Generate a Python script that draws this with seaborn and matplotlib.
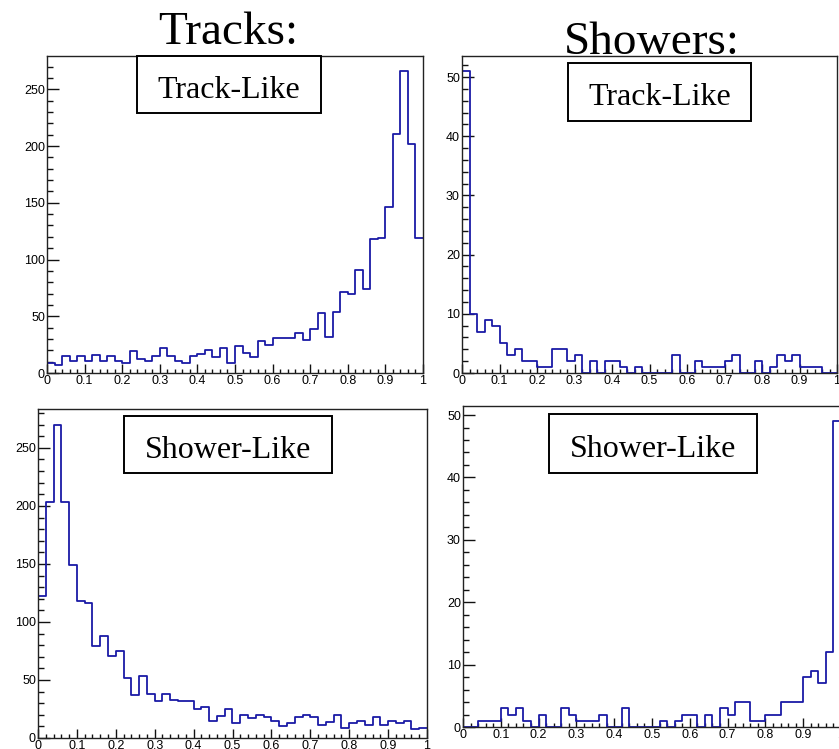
import numpy as np
import pandas as pd
import matplotlib
matplotlib.use("Agg")
import matplotlib.pyplot as plt
import seaborn as sns
from matplotlib.patches import Rectangle
from matplotlib.ticker import MultipleLocator, FuncFormatter

# 50 equal bins on [0, 1]
n_bins = 50
bin_edges = np.linspace(0.0, 1.0, n_bins + 1)

# Tracks, Track-Like score
tracks_tracklike = [9, 7, 15, 11, 15, 11, 16, 11, 15, 11,
                    9, 19, 12, 11, 15, 22, 15, 11, 9, 15,
                    17, 20, 14, 22, 9, 24, 18, 14, 28, 25,
                    31, 31, 31, 35, 29, 39, 53, 32, 54, 71,
                    70, 91, 74, 118, 119, 146, 211, 266, 202, 119]
# Tracks, Shower-Like score
tracks_showerlike = [122, 203, 270, 203, 149, 118, 116, 79, 88, 71,
                     75, 52, 37, 53, 38, 32, 38, 33, 32, 32,
                     25, 27, 15, 19, 25, 13, 20, 17, 20, 18,
                     15, 10, 13, 18, 20, 18, 11, 14, 20, 9,
                     13, 15, 11, 18, 11, 15, 13, 15, 8, 9]
# Showers, Track-Like score
showers_tracklike = [51, 10, 7, 9, 8, 5, 3, 4, 2, 2,
                     1, 1, 4, 4, 2, 3, 0, 2, 0, 2,
                     2, 1, 0, 1, 0, 0, 0, 0, 3, 0,
                     0, 2, 1, 1, 1, 2, 3, 0, 0, 2,
                     0, 1, 3, 2, 3, 1, 1, 1, 0, 0]
# Showers, Shower-Like score
showers_showerlike = [0, 0, 1, 1, 1, 3, 2, 3, 1, 0,
                      2, 0, 0, 3, 2, 1, 1, 1, 2, 0,
                      0, 3, 0, 0, 0, 0, 1, 0, 1, 2,
                      2, 0, 2, 0, 3, 2, 4, 4, 1, 1,
                      2, 2, 4, 4, 4, 8, 9, 7, 12, 49]

column_titles = ["Tracks:", "Showers:"]
row_labels = ["Track-Like", "Shower-Like"]

sns.set_style("white")
plt.rcParams["font.family"] = ["Liberation Sans", "DejaVu Sans"]
plt.rcParams["text.color"] = "black"

W, H = 839, 749
fig = plt.figure(figsize=(W / 100, H / 100), dpi=100)
fig.patch.set_facecolor("white")


def fig_rect(x0, y0, x1, y1):
    """Pixel box (top-left origin) -> figure fraction rect."""
    return [x0 / W, 1 - y1 / H, (x1 - x0) / W, (y1 - y0) / H]


panels = [
    # counts, axes box (px), y major step, label box (px), label baseline
    (tracks_tracklike, (47, 56, 423, 373), 50, (137, 56, 321, 113), 98),
    (showers_tracklike, (462, 56, 837, 373), 10, (568, 63, 751, 121), 105),
    (tracks_showerlike, (38, 409, 427, 738), 50, (124, 416, 332, 473), 458),
    (showers_showerlike, (463, 406, 841, 727), 10, (549, 414, 757, 473), 457),
]
labels = [row_labels[0], row_labels[0], row_labels[1], row_labels[1]]

line_color = "#1a1aa6"
fmt = FuncFormatter(lambda v, p: "%g" % round(v, 6))

for (counts, box, ystep, lbox, base), lab in zip(panels, labels):
    ax = fig.add_axes(fig_rect(*box))
    counts = np.asarray(counts, dtype=float)
    df = pd.DataFrame({"score": 0.5 * (bin_edges[:-1] + bin_edges[1:]),
                       "n": counts})
    sns.histplot(data=df, x="score", weights="n", bins=n_bins,
                 binrange=(0.0, 1.0), element="step", fill=False,
                 color=line_color, linewidth=1.3, ax=ax)
    ax.set_xlim(0, 1)
    ax.set_ylim(0, counts.max() * 1.05)
    ax.set_xlabel("")
    ax.set_ylabel("")
    for s in ax.spines.values():
        s.set_visible(True)
        s.set_linewidth(1.0)
        s.set_color("#222222")
    ax.xaxis.set_major_locator(MultipleLocator(0.1))
    ax.xaxis.set_minor_locator(MultipleLocator(0.02))
    ax.yaxis.set_major_locator(MultipleLocator(ystep))
    ax.yaxis.set_minor_locator(MultipleLocator(ystep / 5))
    ax.xaxis.set_major_formatter(fmt)
    ax.yaxis.set_major_formatter(fmt)
    ax.tick_params(which="both", bottom=True, left=True, top=False,
                   right=False, direction="in", color="#111111", width=1.0)
    ax.tick_params(axis="x", which="major", length=6.5, pad=1.5,
                   labelsize=9, labelcolor="black")
    ax.tick_params(axis="x", which="minor", length=3.2)
    ax.tick_params(axis="y", which="major", length=8.5, pad=1.5,
                   labelsize=9, labelcolor="black")
    ax.tick_params(axis="y", which="minor", length=4.6)
    ax.grid(False)

    # label pave
    x0, y0, x1, y1 = lbox
    fig.patches.append(Rectangle((x0 / W, 1 - y1 / H), (x1 - x0) / W,
                                 (y1 - y0) / H, transform=fig.transFigure,
                                 facecolor="white", edgecolor="black",
                                 linewidth=1.4, zorder=5))
    fig.text((x0 + x1) / 2 / W, 1 - base / H, lab, ha="center",
             va="baseline", fontsize=23, family="Liberation Serif",
             color="black", zorder=6)

fig.text(228 / W, 1 - 44 / H, column_titles[0], ha="center", va="baseline",
         fontsize=34, family="Liberation Serif", color="black")
fig.text(652 / W, 1 - 54 / H, column_titles[1], ha="center", va="baseline",
         fontsize=34, family="Liberation Serif", color="black")

fig.savefig("out.png", dpi=100, facecolor="white")
